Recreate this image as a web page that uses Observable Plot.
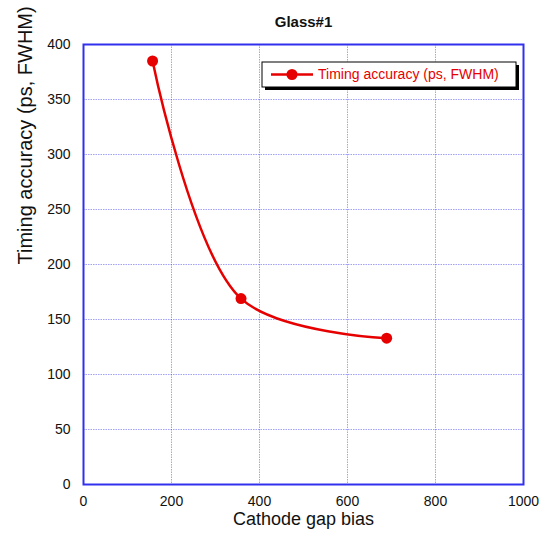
<!DOCTYPE html>
<html>
<head>
<meta charset="utf-8">
<script src="https://cdn.jsdelivr.net/npm/d3@7"></script>
<script src="https://cdn.jsdelivr.net/npm/@observablehq/plot@0.6"></script>
<style>
  html, body { margin: 0; padding: 0; background: #fff; }
  #chart svg { display: block; }
</style>
</head>
<body>
<div id="chart"></div>
<script>
const titleText = "Glass#1";
const xLabel = "Cathode gap bias";
const yLabel = "Timing accuracy (ps, FWHM)";
const seriesName = "Timing accuracy (ps, FWHM)";
const bias = [157, 358, 689];
const accuracy = [385, 169, 133];
const xTicks = [0, 200, 400, 600, 800, 1000];
const yTicks = [0, 50, 100, 150, 200, 250, 300, 350, 400];

const data = bias.map((b, i) => ({x: b, y: accuracy[i]}));
const red = "#e60000";
const blue = "#3030ee";
const font = "'Liberation Sans', Arial, Helvetica, sans-serif";

const plot = Plot.plot({
  width: 547,
  height: 537,
  marginTop: 44,
  marginBottom: 53,
  marginLeft: 83,
  marginRight: 24,
  style: {fontFamily: font, fontSize: "13px", color: "#111", background: "#fff"},
  x: {domain: [0, 1000], ticks: xTicks, tickFormat: d => String(d)},
  y: {domain: [0, 400], ticks: yTicks, tickFormat: d => String(d)},
  marks: [
    Plot.gridX(xTicks, {stroke: blue, strokeOpacity: 0.45, strokeDasharray: "1.5,1"}),
    Plot.gridY(yTicks, {stroke: blue, strokeOpacity: 0.45, strokeDasharray: "1.5,1"}),
    Plot.axisX(xTicks, {tickSize: 0, tickPadding: 12, label: null, fontSize: 14, tickFormat: d => String(d)}),
    Plot.axisY(yTicks, {tickSize: 0, tickPadding: 13, label: null, fontSize: 14, tickFormat: d => String(d)}),
    Plot.frame({stroke: blue, strokeWidth: 2}),
    Plot.line(data, {x: "x", y: "y", curve: "catmull-rom", stroke: red, strokeWidth: 2.5}),
    Plot.dot(data, {x: "x", y: "y", r: 5.5, fill: red}),
    Plot.text([titleText], {frameAnchor: "top", dy: -28, fontWeight: "bold", fontSize: 15}),
    Plot.text([xLabel], {frameAnchor: "bottom", dy: 40, fontSize: 18}),
    Plot.text([yLabel], {frameAnchor: "left", dx: -58, rotate: -90, fontSize: 20})
  ]
});

// legend box
const svg = d3.select(plot);
const lg = svg.append("g").attr("font-family", font).attr("text-anchor", "start");
const lx = 262, ly = 62, lw = 254, lh = 25;
lg.append("rect").attr("x", lx + 3).attr("y", ly + 3).attr("width", lw).attr("height", lh).attr("fill", "#000");
lg.append("rect").attr("x", lx).attr("y", ly).attr("width", lw).attr("height", lh).attr("fill", "#fff").attr("stroke", "#000").attr("stroke-width", 1);
lg.append("line").attr("x1", lx + 9).attr("x2", lx + 51).attr("y1", ly + 12.5).attr("y2", ly + 12.5).attr("stroke", red).attr("stroke-width", 2.5);
lg.append("circle").attr("cx", lx + 30).attr("cy", ly + 12.5).attr("r", 5.5).attr("fill", red);
lg.append("text").attr("x", lx + 56).attr("y", ly + 12.5).attr("dy", "0.35em").attr("fill", red).attr("font-size", 14).attr("text-anchor", "start").text(seriesName);

document.getElementById("chart").appendChild(plot);
</script>
</body>
</html>
